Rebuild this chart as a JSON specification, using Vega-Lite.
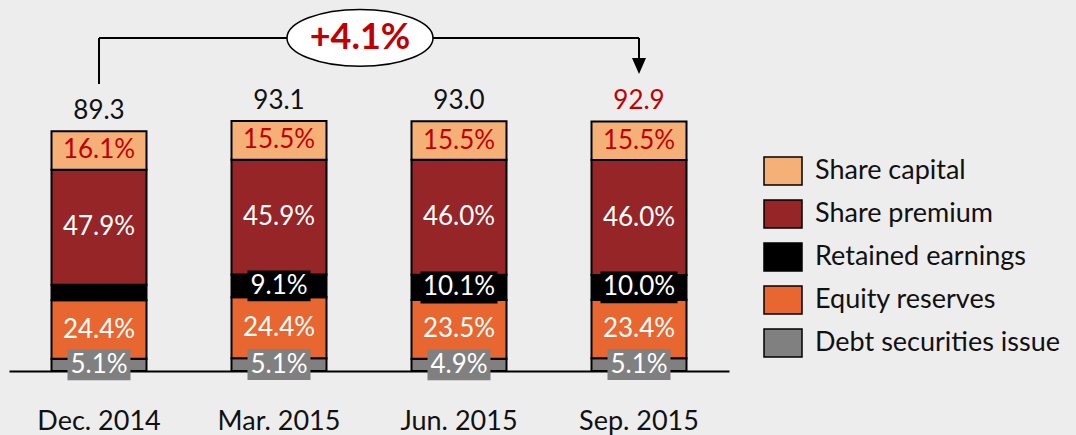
{
  "$schema": "https://vega.github.io/schema/vega-lite/v6.json",
  "autosize": "none",
  "width": 720,
  "height": 371,
  "padding": {"left": 9, "top": 0, "right": 347, "bottom": 64},
  "background": "#ededed",
  "config": {
    "view": {"stroke": null},
    "font": "Lato",
    "axis": {"title": null, "ticks": false, "grid": false, "domainColor": "black", "domainWidth": 2, "labelFontSize": 27, "labelFontWeight": 400, "labelColor": "#111111", "labelPadding": 37, "labelAngle": 0, "labelFont": "Lato"}
  },
  "data": {
    "values": [
      {"date": "Dec. 2014", "category": "Debt securities issue", "rank": 1, "amount": 4.55, "pct": 0.051},
      {"date": "Dec. 2014", "category": "Equity reserves", "rank": 2, "amount": 21.79, "pct": 0.244},
      {"date": "Dec. 2014", "category": "Retained earnings", "rank": 3, "amount": 5.80, "pct": null},
      {"date": "Dec. 2014", "category": "Share premium", "rank": 4, "amount": 42.77, "pct": 0.479},
      {"date": "Dec. 2014", "category": "Share capital", "rank": 5, "amount": 14.38, "pct": 0.161},
      {"date": "Mar. 2015", "category": "Debt securities issue", "rank": 1, "amount": 4.75, "pct": 0.051},
      {"date": "Mar. 2015", "category": "Equity reserves", "rank": 2, "amount": 22.72, "pct": 0.244},
      {"date": "Mar. 2015", "category": "Retained earnings", "rank": 3, "amount": 8.47, "pct": 0.091},
      {"date": "Mar. 2015", "category": "Share premium", "rank": 4, "amount": 42.73, "pct": 0.459},
      {"date": "Mar. 2015", "category": "Share capital", "rank": 5, "amount": 14.43, "pct": 0.155},
      {"date": "Jun. 2015", "category": "Debt securities issue", "rank": 1, "amount": 4.56, "pct": 0.049},
      {"date": "Jun. 2015", "category": "Equity reserves", "rank": 2, "amount": 21.86, "pct": 0.235},
      {"date": "Jun. 2015", "category": "Retained earnings", "rank": 3, "amount": 9.39, "pct": 0.101},
      {"date": "Jun. 2015", "category": "Share premium", "rank": 4, "amount": 42.78, "pct": 0.46},
      {"date": "Jun. 2015", "category": "Share capital", "rank": 5, "amount": 14.42, "pct": 0.155},
      {"date": "Sep. 2015", "category": "Debt securities issue", "rank": 1, "amount": 4.74, "pct": 0.051},
      {"date": "Sep. 2015", "category": "Equity reserves", "rank": 2, "amount": 21.74, "pct": 0.234},
      {"date": "Sep. 2015", "category": "Retained earnings", "rank": 3, "amount": 9.29, "pct": 0.10},
      {"date": "Sep. 2015", "category": "Share premium", "rank": 4, "amount": 42.73, "pct": 0.46},
      {"date": "Sep. 2015", "category": "Share capital", "rank": 5, "amount": 14.40, "pct": 0.155}
    ]
  },
  "layer": [
    {
      "transform": [
        {"stack": "amount", "groupby": ["date"], "sort": [{"field": "rank", "order": "ascending"}], "as": ["y0", "y1"]}
      ],
      "mark": {"type": "bar", "size": 95, "stroke": "black", "strokeWidth": 2},
      "encoding": {
        "x": {"field": "date", "type": "nominal", "sort": null, "scale": {"paddingInner": 0, "paddingOuter": 0}},
        "y": {"field": "y1", "type": "quantitative", "scale": {"domain": [0, 138.1], "nice": false, "zero": true}, "axis": null},
        "y2": {"field": "y0"},
        "color": {
          "field": "category",
          "type": "nominal",
          "scale": {
            "domain": ["Share capital", "Share premium", "Retained earnings", "Equity reserves", "Debt securities issue"],
            "range": ["#f4b077", "#962527", "#000000", "#e8662f", "#808080"]
          },
          "legend": {
            "title": null,
            "orient": "none",
            "legendX": 754,
            "legendY": 151,
            "padding": 0,
            "symbolType": "M-1,-0.74H1V0.74H-1Z",
            "symbolSize": 1444,
            "symbolStrokeColor": "black",
            "symbolStrokeWidth": 1.5,
            "labelFontSize": 27,
            "labelFontWeight": 400,
            "labelFont": "Lato",
            "labelColor": "#111111",
            "labelOffset": 12,
            "rowPadding": 5,
            "labelLimit": 400
          }
        }
      }
    },
    {
      "transform": [
        {"stack": "amount", "groupby": ["date"], "sort": [{"field": "rank", "order": "ascending"}], "as": ["y0", "y1"]},
        {"fold": ["y0", "y1"], "as": ["edge", "v"]},
        {"aggregate": [{"op": "mean", "field": "v", "as": "mid"}], "groupby": ["date", "category", "pct"]},
        {"filter": "isValid(datum.pct) && (datum.category === 'Retained earnings' || datum.category === 'Debt securities issue')"}
      ],
      "mark": {"type": "point", "filled": true, "opacity": 1, "strokeWidth": 0},
      "encoding": {
        "x": {"field": "date", "type": "nominal", "sort": null},
        "y": {"field": "mid", "type": "quantitative"},
        "fill": {"condition": {"test": "datum.category === 'Debt securities issue'", "value": "#808080"}, "value": "#000000"},
        "shape": {"condition": {"test": "datum.category === 'Retained earnings' && datum.pct >= 0.1", "value": "M-1,-0.415H1V0.415H-1Z"}, "value": "M-1,-0.49H1V0.49H-1Z"},
        "size": {"condition": {"test": "datum.category === 'Retained earnings' && datum.pct >= 0.1", "value": 5929}, "value": 3969}
      }
    },
    {
      "transform": [
        {"stack": "amount", "groupby": ["date"], "sort": [{"field": "rank", "order": "ascending"}], "as": ["y0", "y1"]},
        {"fold": ["y0", "y1"], "as": ["edge", "v"]},
        {"aggregate": [{"op": "mean", "field": "v", "as": "mid"}], "groupby": ["date", "category", "pct"]},
        {"filter": "isValid(datum.pct)"}
      ],
      "mark": {"type": "text", "fontSize": 26, "fontWeight": 400, "baseline": "middle", "align": "center", "font": "Lato"},
      "encoding": {
        "x": {"field": "date", "type": "nominal", "sort": null},
        "y": {"field": "mid", "type": "quantitative"},
        "text": {"field": "pct", "type": "quantitative", "format": ".1%"},
        "color": {"condition": {"test": "datum.category === 'Share capital'", "value": "#c00000"}, "value": "#ffffff"}
      }
    },
    {
      "transform": [
        {"aggregate": [{"op": "sum", "field": "amount", "as": "total"}], "groupby": ["date"]}
      ],
      "mark": {"type": "text", "fontSize": 26, "fontWeight": 400, "baseline": "alphabetic", "align": "center", "dy": -12, "font": "Lato"},
      "encoding": {
        "x": {"field": "date", "type": "nominal", "sort": null},
        "y": {"field": "total", "type": "quantitative"},
        "text": {"field": "total", "type": "quantitative", "format": ".1f"},
        "color": {"condition": {"test": "datum.date === 'Sep. 2015'", "value": "#c00000"}, "value": "#111111"}
      }
    },
    {
      "data": {"values": [{}]},
      "mark": {"type": "rule", "color": "black", "strokeWidth": 2},
      "encoding": {
        "x": {"datum": "Dec. 2014", "type": "nominal"},
        "y": {"datum": 106.85, "type": "quantitative"},
        "y2": {"datum": 124}
      }
    },
    {
      "data": {"values": [{}]},
      "mark": {"type": "rule", "color": "black", "strokeWidth": 2},
      "encoding": {
        "x": {"datum": "Dec. 2014", "type": "nominal"},
        "x2": {"datum": "Sep. 2015"},
        "y": {"datum": 124, "type": "quantitative"}
      }
    },
    {
      "data": {"values": [{}]},
      "mark": {"type": "rule", "color": "black", "strokeWidth": 2},
      "encoding": {
        "x": {"datum": "Sep. 2015", "type": "nominal"},
        "y": {"datum": 124, "type": "quantitative"},
        "y2": {"datum": 115.8}
      }
    },
    {
      "data": {"values": [{}]},
      "mark": {"type": "point", "filled": true, "opacity": 1, "color": "black", "shape": "M-0.875,-1L0.875,-1L0,1Z", "size": 256},
      "encoding": {
        "x": {"datum": "Sep. 2015", "type": "nominal"},
        "y": {"datum": 113.55, "type": "quantitative"}
      }
    },
    {
      "data": {"values": [{"note": "+4.1%"}]},
      "mark": {"type": "point", "filled": false, "opacity": 1, "fill": "white", "stroke": "black", "strokeWidth": 1.5, "shape": "M-1,0C-1,-0.2154,-0.5523,-0.39,0,-0.39C0.5523,-0.39,1,-0.2154,1,0C1,0.2154,0.5523,0.39,0,0.39C-0.5523,0.39,-1,0.2154,-1,0Z", "size": 21316},
      "encoding": {
        "x": {"datum": "Mar. 2015", "type": "nominal", "bandPosition": 0.95},
        "y": {"datum": 124, "type": "quantitative"}
      }
    },
    {
      "data": {"values": [{"note": "+4.1%"}]},
      "mark": {"type": "text", "fontSize": 36, "fontWeight": "bold", "baseline": "middle", "align": "center", "color": "#c00000", "font": "Lato"},
      "encoding": {
        "x": {"datum": "Mar. 2015", "type": "nominal", "bandPosition": 0.95},
        "y": {"datum": 124, "type": "quantitative"},
        "text": {"field": "note", "type": "nominal"}
      }
    }
  ]
}
